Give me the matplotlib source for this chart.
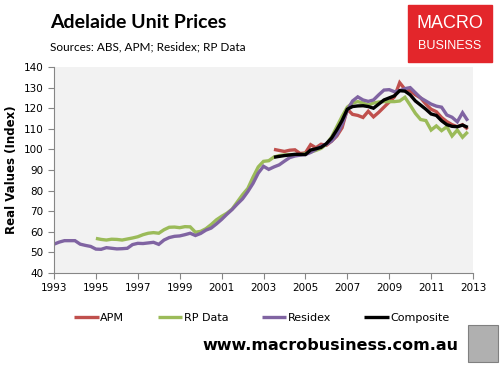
import matplotlib.pyplot as plt
import matplotlib.patches as patches
import numpy as np

# quarterly index values
residex_start = 1993.0
residex = [54.0, 55.0, 55.7, 55.7, 55.7, 54.0, 53.4, 52.9,
           51.6, 51.5, 52.3, 52.0, 51.7, 51.8, 52.0, 53.8,
           54.4, 54.3, 54.6, 54.9, 53.9, 56.0, 57.2, 57.8,
           58.0, 58.6, 59.3, 58.2, 59.2, 60.8, 61.8, 63.8,
           66.0, 68.5, 70.8, 73.5, 76.0, 79.5, 83.5, 88.5,
           91.8, 90.3, 91.5, 92.5, 94.3, 96.0, 96.8, 97.2,
           97.5, 98.5, 100.0, 101.5, 102.5, 104.0, 107.0, 112.0,
           119.0, 123.5, 125.5, 124.0, 123.3, 124.0, 126.5, 128.8,
           129.0, 128.0, 128.5, 129.5, 130.0, 127.5, 125.0, 123.5,
           122.0, 121.0, 120.5, 116.7, 115.6, 113.4, 117.8, 113.9]

rpdata_start = 1995.0
rpdata = [56.8, 56.3, 56.0, 56.4, 56.3, 56.0, 56.5, 57.0,
          57.6, 58.6, 59.3, 59.6, 59.3, 61.0, 62.2, 62.3,
          62.0, 62.5, 62.4, 59.8, 60.2, 61.5, 63.5, 65.8,
          67.5, 69.0, 71.0, 74.5, 78.0, 81.0, 86.5, 91.5,
          94.2, 94.5, 96.3, 97.0, 97.3, 97.5, 97.5, 97.3,
          98.0, 98.7, 99.5, 100.5, 102.5, 106.0, 111.0, 116.0,
          120.5, 122.5, 123.2, 122.5, 121.5, 122.5, 123.0, 123.2,
          123.2, 123.2, 123.5, 125.3, 121.5, 117.5, 114.5, 114.0,
          109.4, 111.4, 109.1, 111.0, 106.5, 109.4, 105.9, 108.5]

apm_start = 2003.5
apm = [100.0, 99.5, 99.0, 99.6, 99.8, 98.0, 98.3, 102.3,
       100.8, 102.5, 102.0, 104.0, 106.5, 110.5, 119.5, 117.0,
       116.5, 115.5, 118.5, 115.8, 118.0, 120.5, 123.0, 125.5,
       132.4, 129.2, 128.5, 126.5, 125.0, 122.0, 119.5, 118.3,
       115.5, 113.5, 112.0, 111.0, 112.0, 109.8]

composite_start = 2003.5
composite = [96.2, 96.6, 97.0, 97.3, 97.6, 97.6, 97.5, 99.7,
             100.3, 101.0, 102.8, 105.5, 109.5, 114.0, 119.5, 120.8,
             121.1, 121.2, 120.8, 120.0, 122.0, 124.0, 125.0, 126.0,
             128.5, 128.3, 126.5, 123.5, 121.5, 119.5, 117.2, 116.5,
             113.9, 112.0, 111.2, 111.0, 111.8, 110.7]

series_names = ['APM', 'RP Data', 'Residex', 'Composite']
series_colors = ['#c0504d', '#9bbb59', '#8064a2', '#000000']
xtick_years = list(range(1993, 2014, 2))


def quarters(start, values):
    return start + np.arange(len(values)) * 0.25


fig = plt.figure(figsize=(5.04, 3.66), dpi=100)
ax = fig.add_axes([54 / 504, 93 / 366, 419 / 504, 206 / 366])
ax.set_facecolor('#f2f2f2')

data = [(apm_start, apm), (rpdata_start, rpdata),
        (residex_start, residex), (composite_start, composite)]
for (start, vals), name, col in zip(data, series_names, series_colors):
    ax.plot(quarters(start, vals), vals, color=col, lw=2.4, label=name,
            solid_capstyle='butt', solid_joinstyle='miter')

ax.set_xlim(1993, 2013)
ax.set_ylim(40, 140)
ax.set_xticks(xtick_years)
ax.set_yticks(range(40, 141, 10))
for s in ['top', 'right']:
    ax.spines[s].set_visible(False)
for s in ['left', 'bottom']:
    ax.spines[s].set_color('#868686')
    ax.spines[s].set_linewidth(0.8)
ax.tick_params(colors='#868686', labelcolor='black', labelsize=7.5,
               length=4, width=0.8, direction='out')
ax.set_ylabel('Real Values (Index)', fontsize=8.5, fontweight='bold', labelpad=4)

fig.text(50 / 504, 1 - 22 / 366, 'Adelaide Unit Prices', family='Lato',
         fontsize=14, fontweight='bold', va='center')
fig.text(50 / 504, 1 - 47 / 366, 'Sources: ABS, APM; Residex; RP Data',
         family='Lato', fontsize=8.5, va='center')

# logo box
fig.patches.append(patches.Rectangle((408 / 504, 1 - 62 / 366), 84 / 504, 57 / 366,
                                     transform=fig.transFigure, color='#e3262b'))
fig.text(450 / 504, 1 - 24 / 366, 'MACRO', color='white', fontsize=13,
         family='Liberation Sans', ha='center', va='center')
fig.text(450 / 504, 1 - 46 / 366, 'BUSINESS', color='white', fontsize=9,
         family='Liberation Sans', ha='center', va='center')

fig.legend(loc='center', bbox_to_anchor=(262 / 504, 48 / 366), ncol=4,
           frameon=False, fontsize=8, handlelength=2.2, handletextpad=0.15,
           columnspacing=3.0)

fig.text(458 / 504, 1 - 346 / 366, 'www.macrobusiness.com.au', fontsize=11.5,
         fontweight='bold', ha='right', va='center')

# wolf picture placeholder
fig.patches.append(patches.Rectangle((468 / 504, 1 - 362 / 366), 30 / 504, 37 / 366,
                                     transform=fig.transFigure, facecolor='#b0b0b0',
                                     edgecolor='#808080', lw=0.8))

fig.savefig('out.png', dpi=100)
